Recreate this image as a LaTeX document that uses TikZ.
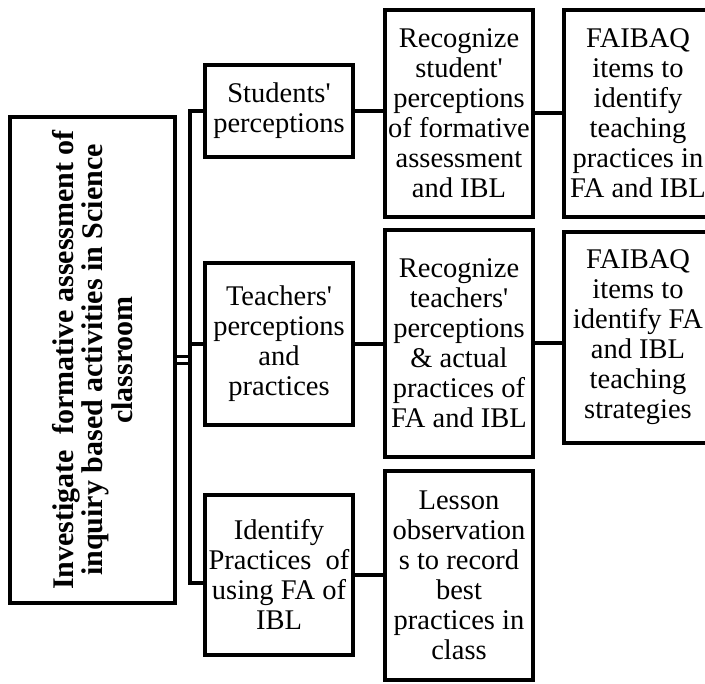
\documentclass[tikz,border=0pt]{standalone}
\usepackage{fontspec}
\setmainfont{Liberation Serif}
\newcommand{\apos}{\textquotesingle}
\begin{document}
\begin{tikzpicture}[x=1pt,y=-1pt,
  box/.style={draw, line width=4pt, inner sep=0pt, align=center,
    font=\fontsize{28.5}{30}\selectfont},
  link/.style={line width=4pt},
  thinlink/.style={line width=3pt}]
\useasboundingbox (0,0) rectangle (705,684);
\clip (0,0) rectangle (705,684);

% root topic
\node[box, minimum width=165pt, minimum height=486pt] (main) at (92.5,360) {};
\node[rotate=90, align=center, inner sep=0pt,
  font=\bfseries\fontsize{30}{29.5}\selectfont] (mainText) at (main.center)
  {Investigate\ \ formative assessment of\\inquiry based activities in Science\\classroom};

% first column
\node[box, minimum width=148pt, minimum height=92pt] (stud) at (279,111)
  {Students\apos\\perceptions};
\node[box, minimum width=148pt, minimum height=162pt] (teach) at (279,344)
  {Teachers\apos\\perceptions\\and\\practices};
\node[box, minimum width=148pt, minimum height=160pt] (ident) at (279,575)
  {Identify\\Practices\ \ of\\using FA of\\IBL};

% second column
\node[box, minimum width=148pt, minimum height=207pt] (rec1) at (459,113.5)
  {Recognize\\student\apos\\perceptions\\of formative\\assessment\\and IBL};
\node[box, minimum width=148pt, minimum height=227pt] (rec2) at (459,343.5)
  {Recognize\\teachers\apos\\perceptions\\\& actual\\practices of\\FA and IBL};
\node[box, minimum width=148pt, minimum height=209pt] (lesson) at (459,575.5)
  {Lesson\\observation\\s to record\\best\\practices in\\class};

% third column
\node[box, minimum width=148pt, minimum height=207pt] (fa1) at (638,113.5)
  {FAIBAQ\\items to\\identify\\teaching\\practices in\\FA and IBL};
\node[box, minimum width=148pt, minimum height=211pt] (fa2) at (638,337.5)
  {FAIBAQ\\items to\\identify FA\\and IBL\\teaching\\strategies};

% spine joining the root to the first column
\coordinate (spineTop) at (190,111);
\coordinate (spineBot) at (190,583);
\draw[link] (stud.west) -- (spineTop) -- (spineBot) -- (spineBot -| ident.west);
\draw[link] (teach.west) -- (teach.west -| spineTop);
\draw[thinlink] ([yshift=-3.3pt]main.east) -- ([yshift=-3.3pt]main.east -| spineTop);
\draw[thinlink] ([yshift=3.3pt]main.east) -- ([yshift=3.3pt]main.east -| spineTop);

% row links
\draw[link] (stud.east) -- (stud.east -| rec1.west);
\draw[link] (teach.east) -- (teach.east -| rec2.west);
\draw[link] (ident.east) -- (ident.east -| lesson.west);
\draw[link] (rec1.east) -- (rec1.east -| fa1.west);
\draw[link] (rec2.east) -- (rec2.east -| fa2.west);
\end{tikzpicture}
\end{document}
